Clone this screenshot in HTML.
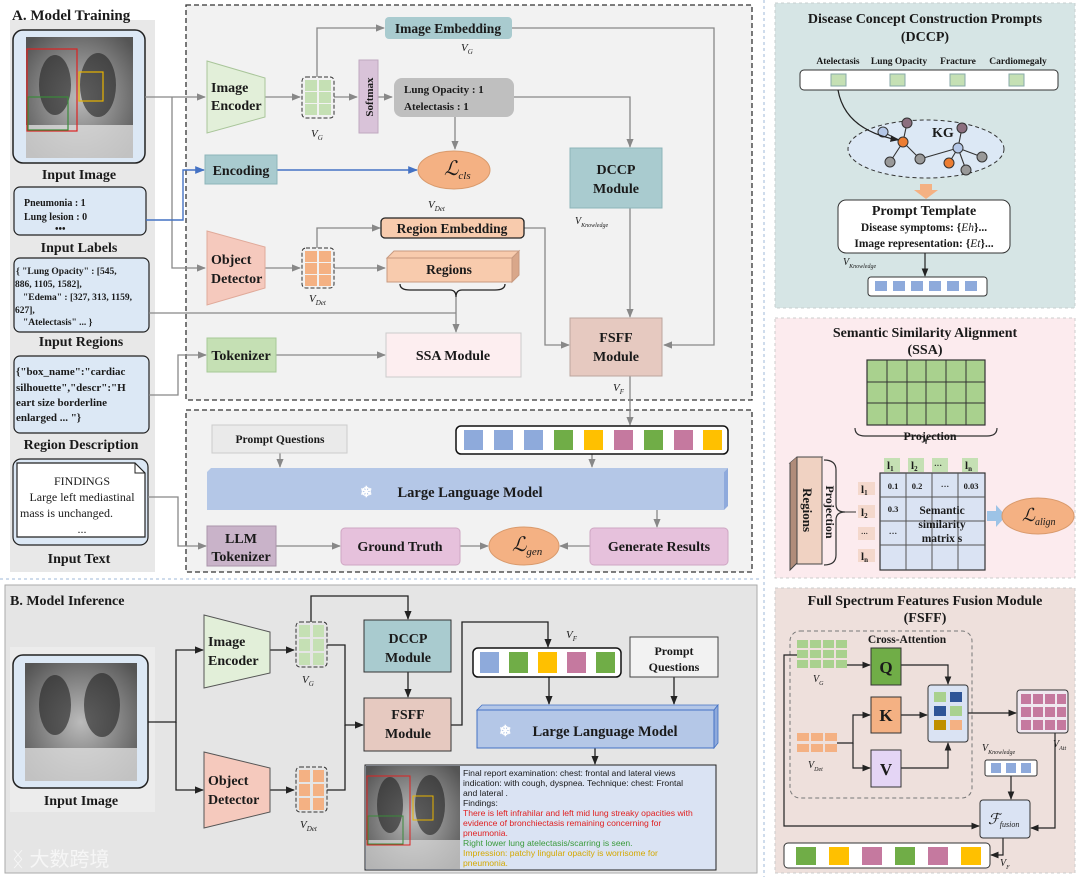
<!DOCTYPE html>
<html><head><meta charset="utf-8"><style>
html,body{margin:0;padding:0;background:#fff;}
svg{display:block;}
text{font-family:"Liberation Serif","Noto Serif CJK SC",serif;font-weight:bold;fill:#1a1a1a;}
.s{font-family:"Liberation Sans","Noto Sans CJK SC",sans-serif;font-weight:normal;}
.i{font-style:italic;font-weight:normal;}
</style></head><body>
<svg width="1080" height="877" viewBox="0 0 1080 877" xmlns="http://www.w3.org/2000/svg">
<defs>
<marker id="a" viewBox="0 0 10 10" refX="9" refY="5" markerWidth="7" markerHeight="7" orient="auto"><path d="M0,1 L10,5 L0,9 z" fill="#888"/></marker>
<marker id="ab" viewBox="0 0 10 10" refX="9" refY="5" markerWidth="7" markerHeight="7" orient="auto"><path d="M0,1 L10,5 L0,9 z" fill="#222"/></marker>
<marker id="abl" viewBox="0 0 10 10" refX="9" refY="5" markerWidth="7" markerHeight="7" orient="auto"><path d="M0,1 L10,5 L0,9 z" fill="#4472c4"/></marker>
<radialGradient id="xr" cx="50%" cy="50%" r="65%"><stop offset="0" stop-color="#bbb"/><stop offset="1" stop-color="#555"/></radialGradient>
</defs>

<rect x="0" y="0" width="760" height="577" fill="#fff"/>
<rect x="10" y="20" width="145" height="552" fill="#e8e8e8"/>
<rect x="186" y="5" width="566" height="395" fill="#f2f2f2" stroke="#333" stroke-width="1.3" stroke-dasharray="5,3"/>
<rect x="186" y="410" width="566" height="162" fill="#f2f2f2" stroke="#333" stroke-width="1.3" stroke-dasharray="5,3"/>
<text x="12" y="20" font-size="15">A. Model Training</text>

<rect x="13" y="30" width="132" height="133" rx="10" fill="#dce8f5" stroke="#222" stroke-width="1.5"/>
<rect x="26" y="37" width="107" height="121" fill="url(#xr)"/>
<ellipse cx="55" cy="85" rx="16" ry="30" fill="#222" opacity="0.6"/>
<ellipse cx="98" cy="85" rx="18" ry="32" fill="#222" opacity="0.6"/>
<rect x="26" y="125" width="107" height="33" fill="#ddd" opacity="0.8"/>
<rect x="27" y="49" width="50" height="82" fill="none" stroke="#d22" stroke-width="1.2"/>
<rect x="79" y="72" width="24" height="29" fill="none" stroke="#e8b400" stroke-width="1.2"/>
<rect x="28" y="97" width="40" height="33" fill="none" stroke="#3a8a3a" stroke-width="1.2"/>
<text x="79" y="179" font-size="14" text-anchor="middle">Input Image</text>

<rect x="14" y="187" width="132" height="48" rx="6" fill="#dce8f5" stroke="#222" stroke-width="1.2"/>
<text x="24" y="206" font-size="10">Pneumonia : 1</text>
<text x="24" y="220" font-size="10">Lung lesion : 0</text>
<text x="55" y="232" font-size="10">•••</text>
<text x="79" y="252" font-size="14" text-anchor="middle">Input Labels</text>

<rect x="14" y="258" width="135" height="74" rx="6" fill="#dce8f5" stroke="#222" stroke-width="1.2"/>
<text x="16" y="274" font-size="9.5">{ "Lung Opacity" : [545,</text>
<text x="15" y="287" font-size="9.5">886, 1105, 1582],</text>
<text x="23" y="300" font-size="9.5">"Edema" : [327, 313, 1159,</text>
<text x="15" y="313" font-size="9.5">627],</text>
<text x="23" y="325" font-size="9.5">"Atelectasis" ... }</text>
<text x="81" y="346" font-size="14" text-anchor="middle">Input Regions</text>

<rect x="14" y="356" width="135" height="77" rx="6" fill="#dce8f5" stroke="#222" stroke-width="1.2"/>
<text x="16" y="375" font-size="11">{"box_name":"cardiac</text>
<text x="16" y="391" font-size="11">silhouette","descr":"H</text>
<text x="16" y="406" font-size="11">eart size borderline</text>
<text x="16" y="421" font-size="11">enlarged ... "}</text>
<text x="81" y="449" font-size="14" text-anchor="middle">Region Description</text>

<rect x="13" y="459" width="135" height="86" rx="8" fill="#dce8f5" stroke="#222" stroke-width="1.2"/>
<path d="M17,463 H135 L145,473 V537 H17 Z" fill="#fff" stroke="#222" stroke-width="1.2"/>
<path d="M135,463 V473 H145" fill="none" stroke="#222"/>
<text x="82" y="485" font-size="12" text-anchor="middle" style="font-weight:normal">FINDINGS</text>
<text x="82" y="501" font-size="12" text-anchor="middle" style="font-weight:normal">Large left mediastinal</text>
<text x="20" y="517" font-size="12" style="font-weight:normal">mass is unchanged.</text>
<text x="82" y="533" font-size="12" text-anchor="middle" style="font-weight:normal">...</text>
<text x="79" y="563" font-size="14" text-anchor="middle">Input Text</text>

<g stroke="#888" stroke-width="1.3" fill="none">
<path d="M145,97 H205" marker-end="url(#a)"/>
<path d="M172,97 V268 H205" marker-end="url(#a)"/>
<path d="M265,97 H300" marker-end="url(#a)"/>
<path d="M317,77 V28 H384" marker-end="url(#a)"/>
<path d="M334,97 H357" marker-end="url(#a)"/>
<path d="M378,97 H392" marker-end="url(#a)"/>
<path d="M455,117 V149" marker-end="url(#a)"/>
<path d="M514,97 H630 V147" marker-end="url(#a)"/>
<path d="M512,28 H714 V345 H664" marker-end="url(#a)"/>
<path d="M630,208 V317" marker-end="url(#a)"/>
<path d="M265,268 H300" marker-end="url(#a)"/>
<path d="M317,248 V228 H380" marker-end="url(#a)"/>
<path d="M334,268 H385" marker-end="url(#a)"/>
<path d="M524,228 H545 V345 H569" marker-end="url(#a)"/>
<path d="M149,313 H456"/>
<path d="M456,297 V332" marker-end="url(#a)"/>
<path d="M149,395 H178 V355 H206" marker-end="url(#a)"/>
<path d="M276,355 H385" marker-end="url(#a)"/>
<path d="M630,376 V425" marker-end="url(#a)"/>
<path d="M280,453 V467" marker-end="url(#a)"/>
<path d="M592,454 V467" marker-end="url(#a)"/>
<path d="M657,510 V527" marker-end="url(#a)"/>
<path d="M148,497 H178 V546 H206" marker-end="url(#a)"/>
<path d="M276,546 H340" marker-end="url(#a)"/>
<path d="M460,546 H488" marker-end="url(#a)"/>
<path d="M590,546 H560" marker-end="url(#a)"/>
</g>
<g stroke="#4472c4" stroke-width="1.4" fill="none">
<path d="M146,220 H183 V170 H204" marker-end="url(#abl)"/>
<path d="M277,170 H417" marker-end="url(#abl)"/>
</g>

<path d="M207,61 L265,78 V117 L207,133 Z" fill="#e2efd9" stroke="#a9c59a"/>
<text x="211" y="92" font-size="14">Image</text><text x="211" y="110" font-size="14">Encoder</text>
<rect x="302" y="77" width="32" height="41" rx="4" fill="none" stroke="#333" stroke-dasharray="4,2"/>
<g fill="#c5e0b4"><rect x="305" y="80" width="12" height="11"/><rect x="319" y="80" width="12" height="11"/><rect x="305" y="92" width="12" height="11"/><rect x="319" y="92" width="12" height="11"/><rect x="305" y="104" width="12" height="11"/><rect x="319" y="104" width="12" height="11"/></g>
<text x="311" y="137" font-size="11" class="i">V<tspan font-size="7" dy="3">G</tspan></text>
<rect x="359" y="60" width="19" height="73" fill="#d9c3d9" stroke="#c0a8c0"/>
<text x="373" y="97" font-size="11" text-anchor="middle" transform="rotate(-90 373 97)">Softmax</text>
<rect x="394" y="78" width="120" height="39" rx="8" fill="#bfbfbf"/>
<text x="404" y="93" font-size="11">Lung Opacity : 1</text><text x="404" y="110" font-size="11">Atelectasis : 1</text>
<rect x="385" y="17" width="127" height="22" rx="4" fill="#a9cbcf"/>
<text x="448" y="33" font-size="13.5" text-anchor="middle">Image Embedding</text>
<text x="461" y="51" font-size="11" class="i">V<tspan font-size="7" dy="3">G</tspan></text>
<rect x="205" y="155" width="72" height="29" fill="#a9cbcf" stroke="#8db5b9"/>
<text x="241" y="175" font-size="14" text-anchor="middle">Encoding</text>
<ellipse cx="454" cy="170" rx="36" ry="19" fill="#f4b183" stroke="#d99a6c"/>
<text x="444" y="175" font-size="20" class="i">ℒ<tspan font-size="11" dy="4">cls</tspan></text>
<text x="428" y="208" font-size="11" class="i">V<tspan font-size="7" dy="3">Det</tspan></text>
<rect x="570" y="148" width="92" height="60" fill="#a9cbcf" stroke="#8db5b9"/>
<text x="616" y="174" font-size="14" text-anchor="middle">DCCP</text><text x="616" y="193" font-size="14" text-anchor="middle">Module</text>
<text x="575" y="224" font-size="10" class="i">V<tspan font-size="6" dy="3">Knowledge</tspan></text>
<path d="M207,231 L265,247 V288 L207,305 Z" fill="#f5c9bd" stroke="#e0aa9a"/>
<text x="211" y="264" font-size="14">Object</text><text x="211" y="283" font-size="14">Detector</text>
<rect x="302" y="248" width="32" height="40" rx="4" fill="none" stroke="#333" stroke-dasharray="4,2"/>
<g fill="#f4b183"><rect x="305" y="251" width="12" height="11"/><rect x="319" y="251" width="12" height="11"/><rect x="305" y="263" width="12" height="11"/><rect x="319" y="263" width="12" height="11"/><rect x="305" y="275" width="12" height="11"/><rect x="319" y="275" width="12" height="11"/></g>
<text x="309" y="302" font-size="11" class="i">V<tspan font-size="7" dy="3">Det</tspan></text>
<rect x="381" y="218" width="143" height="20" rx="4" fill="#f8cbad" stroke="#222" stroke-width="1.3"/>
<text x="452" y="233" font-size="13.5" text-anchor="middle">Region Embedding</text>
<path d="M387,258 L394,251 H519 L512,258 Z" fill="#f8cbad" stroke="#c89a80"/>
<path d="M512,258 L519,251 V275 L512,282 Z" fill="#d9a78a" stroke="#c89a80"/>
<rect x="387" y="258" width="125" height="24" fill="#f8cbad" stroke="#c89a80"/>
<text x="449" y="274" font-size="13.5" text-anchor="middle">Regions</text>
<path d="M400,284 Q400,290 410,290 H450 Q456,290 456,297 Q456,290 462,290 H495 Q505,290 505,284" fill="none" stroke="#222" stroke-width="1.3"/>
<rect x="207" y="338" width="69" height="34" fill="#c5e0b4" stroke="#a6c997"/>
<text x="241" y="360" font-size="14" text-anchor="middle">Tokenizer</text>
<rect x="386" y="333" width="135" height="44" fill="#fdeef0" stroke="#ccc"/>
<text x="453" y="360" font-size="14" text-anchor="middle">SSA Module</text>
<rect x="570" y="318" width="92" height="58" fill="#e6c9c0" stroke="#bca59e"/>
<text x="616" y="342" font-size="14" text-anchor="middle">FSFF</text><text x="616" y="361" font-size="14" text-anchor="middle">Module</text>
<text x="613" y="391" font-size="11" class="i">V<tspan font-size="7" dy="3">F</tspan></text>

<rect x="212" y="425" width="135" height="28" fill="#eaeaea" stroke="#ccc"/>
<text x="280" y="443" font-size="11.5" text-anchor="middle">Prompt Questions</text>
<rect x="456" y="426" width="272" height="28" rx="5" fill="#fff" stroke="#111" stroke-width="1.5"/>
<g><rect x="464" y="430" width="19" height="20" fill="#8eaadb"/><rect x="494" y="430" width="19" height="20" fill="#8eaadb"/><rect x="524" y="430" width="19" height="20" fill="#8eaadb"/><rect x="554" y="430" width="19" height="20" fill="#70ad47"/><rect x="584" y="430" width="19" height="20" fill="#ffc000"/><rect x="614" y="430" width="19" height="20" fill="#c5799f"/><rect x="644" y="430" width="19" height="20" fill="#70ad47"/><rect x="674" y="430" width="19" height="20" fill="#c5799f"/><rect x="703" y="430" width="19" height="20" fill="#ffc000"/></g>
<path d="M207,472 L211,468 H728 L724,472 Z" fill="#b4c7e7"/>
<path d="M724,472 L728,468 V506 L724,510 Z" fill="#8faadc"/>
<rect x="207" y="472" width="517" height="38" fill="#b4c7e7"/>
<text x="360" y="497" font-size="15" style="fill:#fff">❄</text>
<text x="470" y="497" font-size="14.5" text-anchor="middle">Large Language Model</text>
<rect x="207" y="526" width="69" height="40" fill="#c9b3c9" stroke="#aa94aa"/>
<text x="241" y="543" font-size="14" text-anchor="middle">LLM</text><text x="241" y="561" font-size="14" text-anchor="middle">Tokenizer</text>
<rect x="341" y="528" width="119" height="37" rx="4" fill="#e6c1dc" stroke="#cfa6c3"/>
<text x="400" y="551" font-size="14" text-anchor="middle">Ground Truth</text>
<ellipse cx="524" cy="546" rx="35" ry="19" fill="#f4b183" stroke="#d99a6c"/>
<text x="512" y="551" font-size="20" class="i">ℒ<tspan font-size="11" dy="4">gen</tspan></text>
<rect x="590" y="528" width="138" height="37" rx="4" fill="#e6c1dc" stroke="#cfa6c3"/>
<text x="659" y="551" font-size="14" text-anchor="middle">Generate Results</text>

<line x1="0" y1="579" x2="760" y2="579" stroke="#9fb8d8" stroke-dasharray="3,3"/>
<line x1="764" y1="0" x2="764" y2="877" stroke="#9fb8d8" stroke-dasharray="3,3"/>

<rect x="5" y="585" width="752" height="288" fill="#e5e5e5" stroke="#aaa"/>
<text x="10" y="605" font-size="14">B. Model Inference</text>
<rect x="10" y="647" width="145" height="165" fill="#ececec"/>
<rect x="13" y="655" width="135" height="133" rx="10" fill="#dce8f5" stroke="#222" stroke-width="1.5"/>
<rect x="25" y="663" width="112" height="118" fill="url(#xr)"/>
<ellipse cx="55" cy="705" rx="16" ry="30" fill="#222" opacity="0.6"/>
<ellipse cx="102" cy="705" rx="18" ry="32" fill="#222" opacity="0.6"/>
<rect x="25" y="748" width="112" height="33" fill="#ddd" opacity="0.8"/>
<text x="81" y="805" font-size="14" text-anchor="middle">Input Image</text>
<g stroke="#222" stroke-width="1.3" fill="none">
<path d="M148,722 H176 V650 H203" marker-end="url(#ab)"/>
<path d="M176,722 V790 H203" marker-end="url(#ab)"/>
<path d="M270,650 H294" marker-end="url(#ab)"/>
<path d="M270,790 H294" marker-end="url(#ab)"/>
<path d="M311,622 V596 H408 V619" marker-end="url(#ab)"/>
<path d="M327,645 H345 V725 H363" marker-end="url(#ab)"/>
<path d="M327,790 H345 V725"/>
<path d="M408,672 V697" marker-end="url(#ab)"/>
<path d="M451,725 H462 V622 H548 V647" marker-end="url(#ab)"/>
<path d="M549,677 V704" marker-end="url(#ab)"/>
<path d="M674,677 V704" marker-end="url(#ab)"/>
<path d="M595,748 V764" marker-end="url(#ab)"/>
</g>
<path d="M204,615 L270,632 V673 L204,688 Z" fill="#e2efd9" stroke="#555"/>
<text x="208" y="646" font-size="14">Image</text><text x="208" y="665" font-size="14">Encoder</text>
<rect x="296" y="622" width="31" height="45" rx="4" fill="none" stroke="#333" stroke-dasharray="4,2"/>
<g fill="#c5e0b4"><rect x="299" y="625" width="11" height="12"/><rect x="313" y="625" width="11" height="12"/><rect x="299" y="639" width="11" height="12"/><rect x="313" y="639" width="11" height="12"/><rect x="299" y="653" width="11" height="12"/><rect x="313" y="653" width="11" height="12"/></g>
<text x="302" y="683" font-size="11" class="i">V<tspan font-size="7" dy="3">G</tspan></text>
<path d="M204,752 L270,768 V812 L204,828 Z" fill="#f5c9bd" stroke="#555"/>
<text x="208" y="785" font-size="14">Object</text><text x="208" y="804" font-size="14">Detector</text>
<rect x="296" y="767" width="31" height="45" rx="4" fill="none" stroke="#333" stroke-dasharray="4,2"/>
<g fill="#f4b183"><rect x="299" y="770" width="11" height="12"/><rect x="313" y="770" width="11" height="12"/><rect x="299" y="784" width="11" height="12"/><rect x="313" y="784" width="11" height="12"/><rect x="299" y="798" width="11" height="12"/><rect x="313" y="798" width="11" height="12"/></g>
<text x="300" y="828" font-size="11" class="i">V<tspan font-size="7" dy="3">Det</tspan></text>
<rect x="364" y="620" width="87" height="52" fill="#a9cbcf" stroke="#333"/>
<text x="408" y="643" font-size="14" text-anchor="middle">DCCP</text><text x="408" y="662" font-size="14" text-anchor="middle">Module</text>
<rect x="364" y="698" width="87" height="53" fill="#e6c9c0" stroke="#333"/>
<text x="408" y="719" font-size="14" text-anchor="middle">FSFF</text><text x="408" y="738" font-size="14" text-anchor="middle">Module</text>
<text x="566" y="638" font-size="11" class="i">V<tspan font-size="7" dy="3">F</tspan></text>
<rect x="473" y="648" width="148" height="29" rx="5" fill="#fff" stroke="#111" stroke-width="1.5"/>
<rect x="480" y="652" width="19" height="21" fill="#8eaadb"/><rect x="509" y="652" width="19" height="21" fill="#70ad47"/><rect x="538" y="652" width="19" height="21" fill="#ffc000"/><rect x="567" y="652" width="19" height="21" fill="#c5799f"/><rect x="596" y="652" width="19" height="21" fill="#70ad47"/>
<rect x="630" y="637" width="88" height="40" fill="#f2f2f2" stroke="#444"/>
<text x="674" y="655" font-size="12" text-anchor="middle">Prompt</text><text x="674" y="671" font-size="12" text-anchor="middle">Questions</text>
<path d="M477,710 L482,705 H718 L714,710 Z" fill="#b4c7e7" stroke="#4472c4" stroke-width="0.8"/>
<path d="M714,710 L718,705 V743 L714,748 Z" fill="#8faadc" stroke="#4472c4" stroke-width="0.8"/>
<rect x="477" y="710" width="237" height="38" fill="#b4c7e7" stroke="#4472c4"/>
<text x="499" y="736" font-size="15" style="fill:#fff">❄</text>
<text x="605" y="736" font-size="14.5" text-anchor="middle">Large Language Model</text>
<rect x="365" y="765" width="351" height="105" fill="#dae3f3" stroke="#222"/>
<rect x="366" y="766" width="94" height="103" fill="url(#xr)"/>
<ellipse cx="390" cy="805" rx="13" ry="28" fill="#222" opacity="0.6"/>
<ellipse cx="430" cy="805" rx="15" ry="30" fill="#222" opacity="0.6"/>
<rect x="366" y="840" width="94" height="29" fill="#ddd" opacity="0.7"/>
<rect x="367" y="776" width="43" height="69" fill="none" stroke="#d22"/>
<rect x="413" y="796" width="20" height="24" fill="none" stroke="#e8b400"/>
<rect x="368" y="816" width="35" height="28" fill="none" stroke="#3a8a3a"/>
<text x="463" y="776" class="s" style="font-size:8.6px">Final report examination: chest: frontal and lateral views</text>
<text x="463" y="786" class="s" style="font-size:8.6px">indication: with cough, dyspnea. Technique: chest: Frontal</text>
<text x="463" y="796" class="s" style="font-size:8.6px">and lateral .</text>
<text x="463" y="806" class="s" style="font-size:8.6px">Findings:</text>
<text x="463" y="816" class="s" style="font-size:8.6px;fill:#e02020">There is left infrahilar and left mid lung streaky opacities with</text>
<text x="463" y="826" class="s" style="font-size:8.6px;fill:#e02020">evidence of bronchiectasis remaining concerning for</text>
<text x="463" y="836" class="s" style="font-size:8.6px;fill:#e02020">pneumonia.</text>
<text x="463" y="846" class="s" style="font-size:8.6px;fill:#3a9a3a">Right lower lung atelectasis/scarring is seen.</text>
<text x="463" y="856" class="s" style="font-size:8.6px;fill:#d4a800">Impression: patchy lingular opacity is worrisome for</text>
<text x="463" y="866" class="s" style="font-size:8.6px;fill:#d4a800">pneumonia.</text>
<text x="12" y="866" class="s" style="font-size:20px;fill:#fafafa;opacity:0.85">ᛝ 大数跨境</text>

<rect x="775" y="3" width="300" height="305" fill="#d6e5e5" stroke="#c8d0d0" stroke-dasharray="3,3"/>
<text x="925" y="23" font-size="14" text-anchor="middle">Disease Concept Construction Prompts</text>
<text x="925" y="41" font-size="14" text-anchor="middle">(DCCP)</text>
<text x="838" y="64" font-size="9.5" text-anchor="middle">Atelectasis</text>
<text x="899" y="64" font-size="9.5" text-anchor="middle">Lung Opacity</text>
<text x="958" y="64" font-size="9.5" text-anchor="middle">Fracture</text>
<text x="1018" y="64" font-size="9.5" text-anchor="middle">Cardiomegaly</text>
<rect x="800" y="70" width="258" height="20" rx="4" fill="#fff" stroke="#333"/>
<rect x="831" y="74" width="15" height="12" fill="#c5e0b4" stroke="#8aa"/><rect x="890" y="74" width="15" height="12" fill="#c5e0b4" stroke="#8aa"/><rect x="950" y="74" width="15" height="12" fill="#c5e0b4" stroke="#8aa"/><rect x="1009" y="74" width="15" height="12" fill="#c5e0b4" stroke="#8aa"/>
<ellipse cx="926" cy="149" rx="78" ry="29" fill="#dce8f5" stroke="#333" stroke-dasharray="4,3"/>
<g stroke="#333" stroke-width="1.1">
<line x1="883" y1="132" x2="903" y2="142"/><line x1="903" y1="142" x2="907" y2="123"/><line x1="903" y1="142" x2="890" y2="162"/><line x1="903" y1="142" x2="920" y2="159"/><line x1="920" y1="159" x2="958" y2="148"/><line x1="958" y1="148" x2="962" y2="128"/><line x1="958" y1="148" x2="982" y2="157"/><line x1="958" y1="148" x2="949" y2="163"/><line x1="958" y1="148" x2="966" y2="170"/>
</g>
<circle cx="883" cy="132" r="5" fill="#b4c7e7" stroke="#333"/><circle cx="903" cy="142" r="5" fill="#ed7d31" stroke="#333"/><circle cx="907" cy="123" r="5" fill="#8c6f7f" stroke="#333"/><circle cx="890" cy="162" r="5" fill="#999" stroke="#333"/><circle cx="920" cy="159" r="5" fill="#999" stroke="#333"/><circle cx="958" cy="148" r="5" fill="#b4c7e7" stroke="#333"/><circle cx="962" cy="128" r="5" fill="#8c6f7f" stroke="#333"/><circle cx="982" cy="157" r="5" fill="#999" stroke="#333"/><circle cx="949" cy="163" r="5" fill="#ed7d31" stroke="#333"/><circle cx="966" cy="170" r="5" fill="#999" stroke="#333"/>
<text x="932" y="137" font-size="14">KG</text>
<path d="M838,90 Q845,130 898,140" fill="none" stroke="#222" stroke-width="1.2" marker-end="url(#ab)"/>
<path d="M920,184 H932 V190 H938 L926,199 L914,190 H920 Z" fill="#f4b183"/>
<rect x="838" y="200" width="172" height="53" rx="8" fill="#fff" stroke="#333"/>
<text x="924" y="215" font-size="14" text-anchor="middle">Prompt Template</text>
<text x="924" y="231" font-size="11.5" text-anchor="middle">Disease symptoms: {<tspan class="i">Eh</tspan>}...</text>
<text x="924" y="247" font-size="11.5" text-anchor="middle">Image representation: {<tspan class="i">Et</tspan>}...</text>
<text x="843" y="265" font-size="10" class="i">V<tspan font-size="6" dy="3">Knowledge</tspan></text>
<path d="M925,253 V276" stroke="#222" stroke-width="1.2" marker-end="url(#ab)"/>
<rect x="868" y="277" width="119" height="19" rx="3" fill="#fff" stroke="#333"/>
<g fill="#8eaadb"><rect x="875" y="281" width="12" height="10"/><rect x="893" y="281" width="12" height="10"/><rect x="911" y="281" width="12" height="10"/><rect x="929" y="281" width="12" height="10"/><rect x="947" y="281" width="12" height="10"/><rect x="965" y="281" width="12" height="10"/></g>

<rect x="775" y="318" width="300" height="260" fill="#fcebee" stroke="#ccc" stroke-dasharray="3,3"/>
<text x="925" y="337" font-size="14" text-anchor="middle">Semantic Similarity Alignment</text>
<text x="925" y="354" font-size="14" text-anchor="middle">(SSA)</text>
<rect x="867" y="360" width="118" height="65" fill="#a9d18e" stroke="#333" stroke-width="1.2"/>
<g stroke="#333"><line x1="887" y1="360" x2="887" y2="425"/><line x1="907" y1="360" x2="907" y2="425"/><line x1="926" y1="360" x2="926" y2="425"/><line x1="946" y1="360" x2="946" y2="425"/><line x1="966" y1="360" x2="966" y2="425"/><line x1="867" y1="382" x2="985" y2="382"/><line x1="867" y1="403" x2="985" y2="403"/></g>
<path d="M855,428 Q855,436 865,436 H920 Q926,436 926,444 Q926,436 932,436 H987 Q997,436 997,428" fill="none" stroke="#333" stroke-width="1.2"/>
<text x="930" y="440" font-size="12" text-anchor="middle">Projection</text>
<g font-size="11"><rect x="884" y="458" width="16" height="14" fill="#c5e0b4"/><text x="887" y="469">l<tspan font-size="7" dy="2">1</tspan></text>
<rect x="908" y="458" width="16" height="14" fill="#c5e0b4"/><text x="911" y="469">l<tspan font-size="7" dy="2">2</tspan></text>
<rect x="932" y="458" width="16" height="14" fill="#c5e0b4"/><text x="934" y="468" font-size="8">···</text>
<rect x="962" y="458" width="16" height="14" fill="#c5e0b4"/><text x="965" y="469">l<tspan font-size="7" dy="2">n</tspan></text></g>
<rect x="880" y="473" width="105" height="97" fill="#dae3f3" stroke="#333" stroke-width="1.2"/>
<g stroke="#555"><line x1="906" y1="473" x2="906" y2="570"/><line x1="932" y1="473" x2="932" y2="570"/><line x1="958" y1="473" x2="958" y2="570"/><line x1="880" y1="497" x2="985" y2="497"/><line x1="880" y1="521" x2="985" y2="521"/><line x1="880" y1="545" x2="985" y2="545"/></g>
<text x="893" y="489" font-size="8.5" text-anchor="middle">0.1</text><text x="917" y="489" font-size="8.5" text-anchor="middle">0.2</text><text x="945" y="489" font-size="8.5" text-anchor="middle">···</text><text x="971" y="489" font-size="8.5" text-anchor="middle">0.03</text>
<text x="893" y="512" font-size="8.5" text-anchor="middle">0.3</text><text x="893" y="536" font-size="8.5" text-anchor="middle">···</text>
<text x="942" y="514" font-size="11.5" text-anchor="middle">Semantic</text><text x="942" y="528" font-size="11.5" text-anchor="middle">similarity</text><text x="942" y="542" font-size="11.5" text-anchor="middle">matrix s</text>
<g font-size="11"><rect x="858" y="482" width="17" height="13" fill="#f4d8cc"/><text x="861" y="493">l<tspan font-size="7" dy="2">1</tspan></text>
<rect x="858" y="505" width="17" height="13" fill="#f4d8cc"/><text x="861" y="516">l<tspan font-size="7" dy="2">2</tspan></text>
<rect x="858" y="527" width="17" height="13" fill="#f4d8cc"/><text x="861" y="536" font-size="7">···</text>
<rect x="858" y="549" width="17" height="13" fill="#f4d8cc"/><text x="861" y="560">l<tspan font-size="7" dy="2">n</tspan></text></g>
<path d="M790,463 L797,457 H822 L815,463 Z" fill="#e8c4b0" stroke="#444"/>
<path d="M790,463 V570 L797,563 V457" fill="#b08c7a" stroke="#444"/>
<rect x="797" y="457" width="25" height="107" fill="#f0d2c2" stroke="#444"/>
<text x="803" y="510" font-size="13" text-anchor="middle" transform="rotate(90 803 510)">Regions</text>
<path d="M824,460 Q836,460 836,470 V505 Q836,512 845,512 Q836,512 836,520 V555 Q836,565 824,565" fill="none" stroke="#333" stroke-width="1.2"/>
<text x="826" y="512" font-size="12" text-anchor="middle" transform="rotate(90 826 512)">Projection</text>
<line x1="845" y1="512" x2="856" y2="512" stroke="#333"/>
<path d="M987,511 H996 V505 L1006,516 L996,527 V521 H987 Z" fill="#9dc3e6"/>
<ellipse cx="1038" cy="516" rx="36" ry="18" fill="#f4b183" stroke="#d99a6c"/>
<text x="1022" y="521" font-size="18" class="i">ℒ<tspan font-size="10" dy="4">align</tspan></text>

<rect x="775" y="588" width="300" height="285" fill="#eee0dc" stroke="#ccc" stroke-dasharray="3,3"/>
<text x="925" y="605" font-size="14" text-anchor="middle">Full Spectrum Features Fusion Module</text>
<text x="925" y="622" font-size="14" text-anchor="middle">(FSFF)</text>
<rect x="790" y="631" width="182" height="167" rx="10" fill="none" stroke="#777" stroke-dasharray="4,3"/>
<text x="907" y="643" font-size="11.5" text-anchor="middle">Cross-Attention</text>
<g fill="#a9d18e"><rect x="797" y="640" width="11" height="8"/><rect x="810" y="640" width="11" height="8"/><rect x="823" y="640" width="11" height="8"/><rect x="836" y="640" width="11" height="8"/><rect x="797" y="650" width="11" height="8"/><rect x="810" y="650" width="11" height="8"/><rect x="823" y="650" width="11" height="8"/><rect x="836" y="650" width="11" height="8"/><rect x="797" y="660" width="11" height="8"/><rect x="810" y="660" width="11" height="8"/><rect x="823" y="660" width="11" height="8"/><rect x="836" y="660" width="11" height="8"/></g>
<text x="813" y="682" font-size="10" class="i">V<tspan font-size="6" dy="3">G</tspan></text>
<g fill="#f4b183"><rect x="797" y="733" width="12" height="8"/><rect x="811" y="733" width="12" height="8"/><rect x="825" y="733" width="12" height="8"/><rect x="797" y="744" width="12" height="8"/><rect x="811" y="744" width="12" height="8"/><rect x="825" y="744" width="12" height="8"/></g>
<text x="808" y="768" font-size="10" class="i">V<tspan font-size="6" dy="3">Det</tspan></text>
<g stroke="#222" stroke-width="1.2" fill="none">
<path d="M847,665 H870" marker-end="url(#ab)"/>
<path d="M837,743 H853 V715 H870" marker-end="url(#ab)"/>
<path d="M853,743 V768 H870" marker-end="url(#ab)"/>
<path d="M901,665 H948 V684" marker-end="url(#ab)"/>
<path d="M901,715 H927" marker-end="url(#ab)"/>
<path d="M901,768 H948 V743" marker-end="url(#ab)"/>
<path d="M968,713 H1016" marker-end="url(#ab)"/>
<path d="M1055,733 V828 H1031" marker-end="url(#ab)"/>
<path d="M1011,776 V799" marker-end="url(#ab)"/>
<path d="M797,655 H784 V826 H979" marker-end="url(#ab)"/>
<path d="M1003,838 V855 H991" marker-end="url(#ab)"/>
</g>
<rect x="871" y="648" width="30" height="37" fill="#70ad47" stroke="#333"/><text x="886" y="673" font-size="17" text-anchor="middle">Q</text>
<rect x="871" y="697" width="30" height="36" fill="#f4b183" stroke="#333"/><text x="886" y="721" font-size="17" text-anchor="middle">K</text>
<rect x="871" y="750" width="30" height="37" fill="#e4d5f5" stroke="#333"/><text x="886" y="775" font-size="17" text-anchor="middle">V</text>
<rect x="928" y="685" width="40" height="57" rx="3" fill="#dae3f3" stroke="#333"/>
<rect x="934" y="692" width="12" height="10" fill="#a9d18e"/><rect x="950" y="692" width="12" height="10" fill="#2f5597"/><rect x="934" y="706" width="12" height="10" fill="#2f5597"/><rect x="950" y="706" width="12" height="10" fill="#a9d18e"/><rect x="934" y="720" width="12" height="10" fill="#bf9000"/><rect x="950" y="720" width="12" height="10" fill="#f4b183"/>
<rect x="1017" y="690" width="51" height="43" rx="3" fill="#f0e8f0" stroke="#333"/>
<g fill="#c5799f"><rect x="1021" y="694" width="10" height="10"/><rect x="1033" y="694" width="10" height="10"/><rect x="1045" y="694" width="10" height="10"/><rect x="1057" y="694" width="9" height="10"/><rect x="1021" y="707" width="10" height="10"/><rect x="1033" y="707" width="10" height="10"/><rect x="1045" y="707" width="10" height="10"/><rect x="1057" y="707" width="9" height="10"/><rect x="1021" y="720" width="10" height="10"/><rect x="1033" y="720" width="10" height="10"/><rect x="1045" y="720" width="10" height="10"/><rect x="1057" y="720" width="9" height="10"/></g>
<text x="1053" y="747" font-size="10" class="i">V<tspan font-size="6" dy="3">Att</tspan></text>
<text x="982" y="751" font-size="10" class="i">V<tspan font-size="6" dy="3">Knowledge</tspan></text>
<rect x="985" y="760" width="52" height="16" rx="2" fill="#fff" stroke="#333"/>
<rect x="991" y="763" width="10" height="10" fill="#8eaadb"/><rect x="1006" y="763" width="10" height="10" fill="#8eaadb"/><rect x="1021" y="763" width="10" height="10" fill="#8eaadb"/>
<rect x="980" y="800" width="50" height="38" rx="3" fill="#dae3f3" stroke="#333"/>
<text x="988" y="824" font-size="15" class="i">ℱ<tspan font-size="8" dy="3">fusion</tspan></text>
<rect x="784" y="843" width="206" height="25" rx="4" fill="#fff" stroke="#333"/>
<rect x="796" y="847" width="20" height="18" fill="#70ad47"/><rect x="829" y="847" width="20" height="18" fill="#ffc000"/><rect x="862" y="847" width="20" height="18" fill="#c5799f"/><rect x="895" y="847" width="20" height="18" fill="#70ad47"/><rect x="928" y="847" width="20" height="18" fill="#c5799f"/><rect x="961" y="847" width="20" height="18" fill="#ffc000"/>
<text x="1000" y="866" font-size="10" class="i">V<tspan font-size="6" dy="3">F</tspan></text>
</svg>
</body></html>
